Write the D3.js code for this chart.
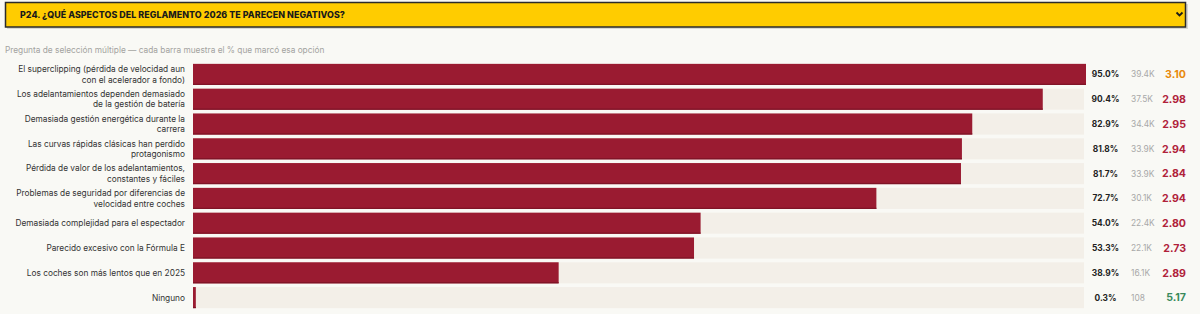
<!DOCTYPE html>
<html>
<head>
<meta charset="utf-8">
<script src="https://cdn.jsdelivr.net/npm/d3@7"></script>
<style>
  html, body { margin: 0; padding: 0; background: #f9f9f5; }
  svg { display: block; font-family: Inter, "Noto Sans", sans-serif; }
</style>
</head>
<body>
<svg id="chart" width="1200" height="314"></svg>
<script>
const title = "P24. ¿QUÉ ASPECTOS DEL REGLAMENTO 2026 TE PARECEN NEGATIVOS?";
const subtitle = "Pregunta de selección múltiple — cada barra muestra el % que marcó esa opción";

const categories = [
  "El superclipping (pérdida de velocidad aun con el acelerador a fondo)",
  "Los adelantamientos dependen demasiado de la gestión de batería",
  "Demasiada gestión energética durante la carrera",
  "Las curvas rápidas clásicas han perdido protagonismo",
  "Pérdida de valor de los adelantamientos, constantes y fáciles",
  "Problemas de seguridad por diferencias de velocidad entre coches",
  "Demasiada complejidad para el espectador",
  "Parecido excesivo con la Fórmula E",
  "Los coches son más lentos que en 2025",
  "Ninguno"
];
const percents = [95.0, 90.4, 82.9, 81.8, 81.7, 72.7, 54.0, 53.3, 38.9, 0.3];
const counts = [39400, 37500, 34400, 33900, 33900, 30100, 22400, 22100, 16100, 108];
const scores = [3.10, 2.98, 2.95, 2.94, 2.84, 2.94, 2.80, 2.73, 2.89, 5.17];

const svg = d3.select("#chart");

// Header box
const hdr = svg.append("g");
hdr.append("rect").attr("x", 7).attr("y", 4).attr("width", 1181).attr("height", 25)
  .attr("fill", "#d9d8d2");
hdr.append("rect").attr("x", 5.5).attr("y", 2.5).attr("width", 1180).attr("height", 24.5)
  .attr("fill", "#ffcc00").attr("stroke", "#2b2b2b").attr("stroke-width", 1.5);
hdr.append("text").attr("x", 20).attr("y", 18.2)
  .attr("font-size", 8.9).attr("font-weight", 800).attr("letter-spacing", 0.05)
  .attr("fill", "#1a1a1a").text(title);
hdr.append("path").attr("d", "M1176.5,12.5 L1179.5,15.5 L1182.5,12.5")
  .attr("fill", "none").attr("stroke", "#1a1a1a").attr("stroke-width", 1.8);

svg.append("text").attr("x", 5).attr("y", 53)
  .attr("font-size", 8.3).attr("fill", "#a3a3a0").text(subtitle);

// Scales
const y = d3.scaleBand().domain(categories).range([62, 310])
  .paddingInner(0.15).paddingOuter(0.075);
const x = d3.scaleLinear().domain([0, d3.max(percents)]).range([193, 1086]);

const rows = svg.append("g").selectAll("g").data(categories).join("g");

// Tracks
rows.append("rect")
  .attr("x", x(0)).attr("y", d => y(d))
  .attr("width", x(d3.max(percents)) - x(0) - 2).attr("height", y.bandwidth())
  .attr("fill", "#f3efe8");

// Bars
rows.append("rect")
  .attr("x", x(0)).attr("y", d => y(d))
  .attr("width", (d, i) => x(percents[i]) - x(0)).attr("height", y.bandwidth())
  .attr("fill", "#9a1b31");
rows.append("rect")
  .attr("x", x(0)).attr("y", d => y(d) + y.bandwidth() - 1.2)
  .attr("width", (d, i) => x(percents[i]) - x(0)).attr("height", 1.2)
  .attr("fill", "#7e1427");

// Labels with wrapping (measured in SVG)
const labelSize = 8.3;
const lineH = 10.4;
const maxW = 175;
const probe = svg.append("text").attr("font-size", labelSize).attr("x", -1000).attr("y", -1000);
function measure(s) { probe.text(s); return probe.node().getComputedTextLength(); }
function wrap(str) {
  const words = str.split(" ");
  const lines = [];
  let cur = "";
  words.forEach(w => {
    const t = cur ? cur + " " + w : w;
    if (measure(t) > maxW && cur) { lines.push(cur); cur = w; }
    else cur = t;
  });
  if (cur) lines.push(cur);
  return lines;
}
rows.each(function(d) {
  const lines = wrap(d);
  const cy = y(d) + y.bandwidth() / 2;
  const t = d3.select(this).append("text")
    .attr("text-anchor", "end").attr("font-size", labelSize).attr("fill", "#333");
  lines.forEach((ln, k) => {
    t.append("tspan").attr("x", 185)
      .attr("y", cy + (k - (lines.length - 1) / 2) * lineH + 3)
      .text(ln);
  });
});
probe.remove();

// Value columns
const fmtCount = n => n >= 1000 ? (n / 1000).toFixed(1) + "K" : String(n);
const scoreColor = s => s >= 5 ? "#3a8a5c" : (s >= 3 ? "#e8890c" : "#b0213a");

rows.append("text")
  .attr("x", 1105.5).attr("y", d => y(d) + y.bandwidth() / 2 + 3)
  .attr("text-anchor", "middle").attr("font-size", 8.4).attr("font-weight", 700)
  .attr("fill", "#222").text((d, i) => percents[i].toFixed(1) + "%");
rows.append("text")
  .attr("x", 1131).attr("y", d => y(d) + y.bandwidth() / 2 + 3)
  .attr("font-size", 8.4).attr("fill", "#a8a8a8")
  .text((d, i) => fmtCount(counts[i]));
rows.append("text")
  .attr("x", 1186).attr("y", d => y(d) + y.bandwidth() / 2 + 3.8)
  .attr("text-anchor", "end").attr("font-size", 10.6).attr("font-weight", 700)
  .attr("fill", (d, i) => scoreColor(scores[i]))
  .text((d, i) => scores[i].toFixed(2));
</script>
</body>
</html>
